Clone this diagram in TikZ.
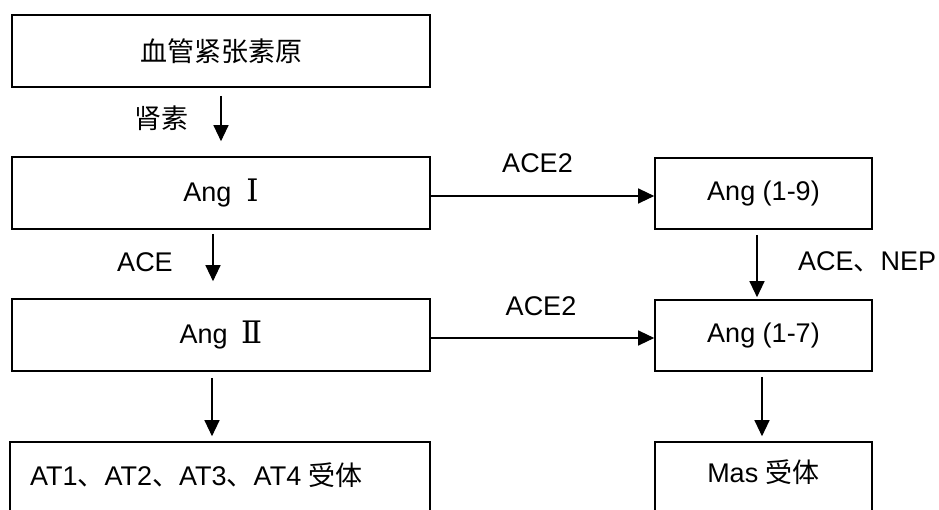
\documentclass[tikz,border=0pt]{standalone}
\usepackage{fontspec}
\setmainfont{Liberation Sans}
\newfontfamily\cjk{Noto Sans CJK SC}
\newfontfamily\rnum{DejaVu Serif}
\usetikzlibrary{arrows.meta}
\begin{document}
\begin{tikzpicture}[x=1pt,y=-1pt,
  box/.style={draw, line width=1.6pt, minimum width=418pt, minimum height=72pt, inner sep=0pt, font=\fontsize{27}{32}\selectfont},
  rbox/.style={box, minimum width=217pt, minimum height=71pt},
  arr/.style={line width=1.2pt, -{Triangle[length=16pt,width=15pt]}},
  lbl/.style={font=\fontsize{27}{32}\selectfont, inner sep=0pt},
  roman/.style={}]
\clip (0,0) rectangle (939,510);
\fill[white] (0,0) rectangle (939,510);
% left column
\node[box] (b1) at (221,51) {\cjk 血管紧张素原};
\node[box] (b2) at (221,193) {Ang\hspace{0.55em}{\rnum\fontsize{31}{32}\selectfont Ⅰ}};
\node[box] (b3) at (221,335) {Ang\hspace{0.5em}{\rnum\fontsize{31}{32}\selectfont Ⅱ}};
\node[box, minimum width=420pt, minimum height=110pt] (b4) at (220,497) {};
\node[lbl, anchor=west] (t4) at (30,475) {AT1{\cjk 、}AT2{\cjk 、}AT3{\cjk 、}AT4 {\cjk 受体}};
% right column
\node[rbox] (r1) at (763.5,193.5) {Ang (1-9)};
\node[rbox] (r2) at (763.5,335.5) {Ang (1-7)};
\node[rbox, minimum height=110pt] (r3) at (763.5,497) {};
\node[lbl] (t5) at (763.5,472) {Mas {\cjk 受体}};
% connectors
\draw[arr] ([yshift=-8pt]b1.south) -- ([yshift=15pt]b2.north);
\draw[arr] ([xshift=-8pt,yshift=-4pt]b2.south) -- ([xshift=-8pt,yshift=17pt]b3.north);
\draw[arr] ([xshift=-9pt,yshift=-6pt]b3.south) -- ([xshift=-8pt,yshift=5pt]b4.north);
\draw[arr] ([yshift=-3pt]b2.east) -- ([yshift=-3pt]b2.east -| r1.west);
\draw[arr] ([yshift=-3pt]b3.east) -- ([yshift=-3pt]b3.east -| r2.west);
\draw[arr] ([xshift=-6.5pt,yshift=-5pt]r1.south) -- ([xshift=-6.5pt,yshift=2pt]r2.north);
\draw[arr] ([xshift=-1.5pt,yshift=-5pt]r2.south) -- ([xshift=-1.5pt,yshift=5pt]r3.north);
% labels
\node[lbl] (l1) at (161,118) {\cjk 肾素};
\node[lbl] (l2) at (145,262) {ACE};
\node[lbl] (l3) at (537.5,163) {ACE2};
\node[lbl] (l4) at (541,306) {ACE2};
\node[lbl, anchor=west] (l5) at (798,262) {ACE{\cjk 、}NEP};
\end{tikzpicture}
\end{document}
